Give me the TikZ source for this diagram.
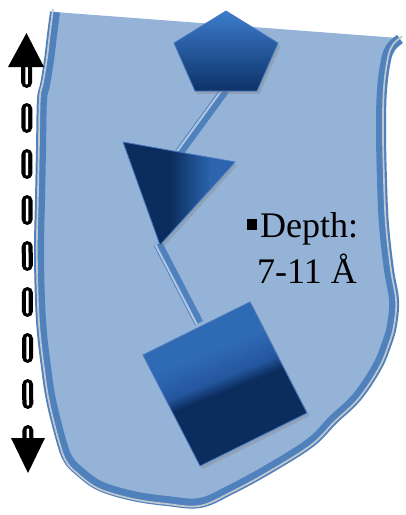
\documentclass[tikz,border=0pt]{standalone}
\usepackage{fontspec}
\setmainfont{Liberation Serif}
\usetikzlibrary{shadows,calc}
\definecolor{pocketfill}{RGB}{149,179,215}
\definecolor{pocketline}{RGB}{79,129,189}
\definecolor{pocketgray}{RGB}{196,200,206}
\definecolor{navy}{RGB}{11,45,94}
\definecolor{shapeblue}{RGB}{44,100,174}
\definecolor{penttop}{RGB}{60,124,204}
\definecolor{pentbot}{RGB}{13,50,103}
\definecolor{sqtop}{RGB}{47,106,181}
\definecolor{sqmid}{RGB}{36,86,158}
\definecolor{stickblue}{RGB}{79,129,189}
\definecolor{stickhi}{RGB}{176,198,226}
\definecolor{edgeblue}{RGB}{70,120,190}
\pgfdeclarehorizontalshading{trishade}{100bp}{color(0bp)=(navy); color(25bp)=(navy); color(46bp)=(navy); color(64bp)=(shapeblue); color(75bp)=(shapeblue); color(100bp)=(shapeblue)}
\pgfdeclareverticalshading{sqshade}{100bp}{color(0bp)=(navy); color(48bp)=(navy); color(52bp)=(sqmid); color(61bp)=(sqtop); color(100bp)=(sqtop)}
\begin{document}
\begin{tikzpicture}[x=1pt,y=-1pt,
  pocketfillstyle/.style={fill=pocketfill},
  pocketshadow/.style={drop shadow={opacity=0.25, shadow xshift=3pt, shadow yshift=-4pt}},
  pocketband/.style={draw=pocketline, line width=10pt, line join=round, line cap=butt},
  pocketgrayline/.style={draw=pocketgray, line width=1.7pt, line join=round},
  shapeshadow/.style={drop shadow={opacity=0.35, shadow xshift=2.5pt, shadow yshift=-3pt}},
  stick/.style={draw=stickblue, line width=9pt},
  stickhl/.style={draw=stickhi, line width=2pt},
  shapeedge/.style={draw=edgeblue, line width=0.8pt, line join=miter},
  dashblack/.style={draw=black, line width=11pt, line cap=round},
  dashwhite/.style={draw=white, line width=2.5pt, line cap=round},
  headtip/.style={fill=black},
  depthtext/.style={font=\fontsize{36}{44}\selectfont, inner sep=0pt, anchor=base west}
]
\useasboundingbox (0,0) rectangle (406,515);

% pocket body
\path[pocketfillstyle, pocketshadow] (55,12) -- (398,38) -- plot[smooth, tension=0.6] coordinates {(400,39) (391,47) (386,60) (382,90) (381,130) (382,180) (384,225) (389,270) (394,300) (392,325) (387,343) (377,367) (357,397) (333,420) (310,443) (267,470) (230,490) (200,503) (167,501) (133,496) (100,486) (79,471) (68,459) (61,440) (51,400) (46,367) (42,333) (40,300) (39,250) (40,200) (41,150) (42,100) (45,85) (49,60) (52,35) (55,12)} -- cycle;
% pocket rim (open at the top)
\draw[pocketband] plot[smooth, tension=0.6] coordinates {(400,39) (391,47) (386,60) (382,90) (381,130) (382,180) (384,225) (389,270) (394,300) (392,325) (387,343) (377,367) (357,397) (333,420) (310,443) (267,470) (230,490) (200,503) (167,501) (133,496) (100,486) (79,471) (68,459) (61,440) (51,400) (46,367) (42,333) (40,300) (39,250) (40,200) (41,150) (42,100) (45,85) (49,60) (52,35) (55,12)};
\begin{scope}[shift={(220,260)}, scale=1.012, shift={(-220,-260)}]
\draw[pocketgrayline] plot[smooth, tension=0.6] coordinates {(400,39) (391,47) (386,60) (382,90) (381,130) (382,180) (384,225) (389,270) (394,300) (392,325) (387,343) (377,367) (357,397) (333,420) (310,443) (267,470) (230,490) (200,503) (167,501) (133,496) (100,486) (79,471) (68,459) (61,440) (51,400) (46,367) (42,333) (40,300) (39,250) (40,200) (41,150) (42,100) (45,85) (49,60) (52,35) (55,12)};
\end{scope}

% anchor coordinates
\coordinate (pentA) at (226,11);
\coordinate (pentB) at (278,43);
\coordinate (pentC) at (257,91);
\coordinate (pentD) at (195,91);
\coordinate (pentE) at (174,43);
\coordinate (pentBottom) at (225,90);
\coordinate (triA) at (123,142);
\coordinate (triB) at (235,162);
\coordinate (triC) at (160,245);
\coordinate (triTop) at (179,153);
\coordinate (triTip) at (158,244);
\coordinate (sqA) at (143,355);
\coordinate (sqB) at (250,302);
\coordinate (sqC) at (307,413);
\coordinate (sqD) at (200,466);
\coordinate (sqTop) at (199,323);

% sticks
\draw[stick] (pentBottom) -- (triTop);
\draw[stickhl, transform canvas={xshift=-2pt, yshift=1.6pt}] (pentBottom) -- (triTop);
\draw[stick] (triTip) -- (sqTop);
\draw[stickhl, transform canvas={xshift=-2.3pt, yshift=-1.2pt}] (triTip) -- (sqTop);

% triangle
\path[shapeedge, shapeshadow, shading=trishade] (triA) -- (triB) -- (triC) -- cycle;
% pentagon
\path[shapeedge, shapeshadow, top color=penttop, bottom color=pentbot] (pentA) -- (pentB) -- (pentC) -- (pentD) -- (pentE) -- cycle;
% square
\path[shapeedge, shapeshadow, shading=sqshade, shading angle=22] (sqA) -- (sqB) -- (sqC) -- (sqD) -- cycle;

% text
\node[fill=black, minimum size=10.5pt, inner sep=0pt] (bullet) at (252,224.5) {};
\node[depthtext] (depth) at (260,237) {Depth:};
\node[depthtext] (range) at (257,283) {7-11 Å};

% double arrow (dashed shaft drawn dash by dash)
\coordinate (arrTop) at (26.5,33);
\coordinate (arrBot) at (28,473);
\foreach \a/\b in {62/88,103/133,149/179,195/225,241/271,287/317,333/363,379/409,425/445}{
  \draw[dashblack] ($(arrTop)!{(\a+5.5-33)/440}!(arrBot)$) -- ($(arrTop)!{(\b-5.5-33)/440}!(arrBot)$);
  \draw[dashwhite] ($(arrTop)!{(\a+4.5-33)/440}!(arrBot)$) -- ($(arrTop)!{(\b-4.5-33)/440}!(arrBot)$);
}
\fill[headtip] (arrTop) -- ++(-18.5,34) -- ++(36,0) -- cycle;
\fill[headtip] (arrBot) -- ++(-17,-35) -- ++(34,0) -- cycle;
\end{tikzpicture}
\end{document}
